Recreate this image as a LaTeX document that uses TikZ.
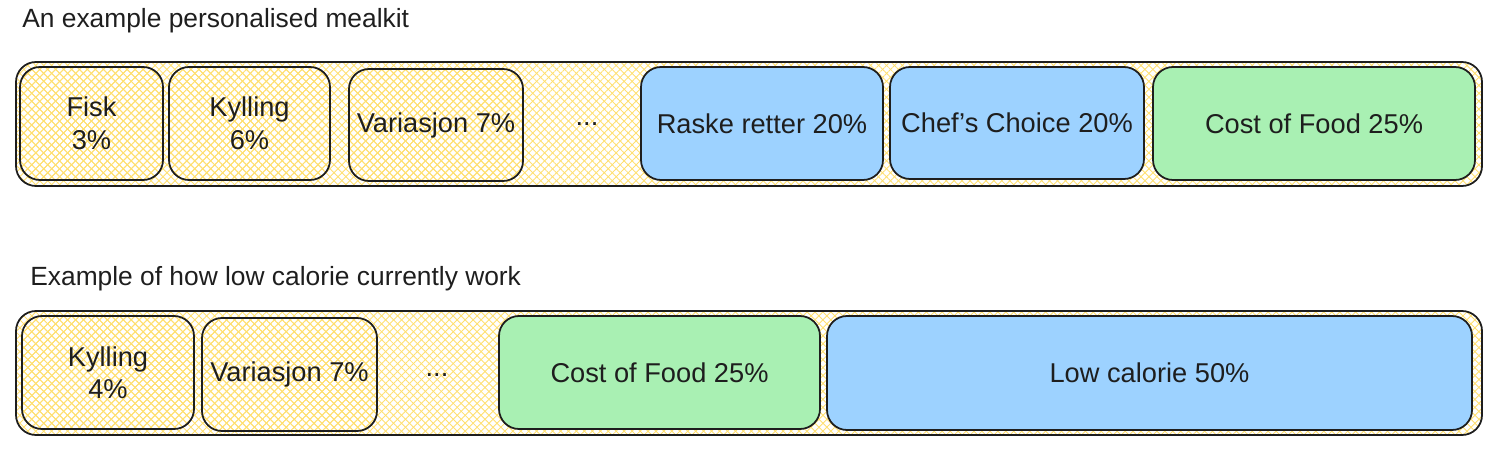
\documentclass[tikz,border=0pt]{standalone}
\usepackage{fontspec}
\setmainfont{Liberation Sans}
\usetikzlibrary{patterns.meta}

\definecolor{inkblack}{HTML}{1E1E1E}
\definecolor{hatchyellow}{HTML}{FFDF70}
\definecolor{kitblue}{HTML}{9DD2FF}
\definecolor{kitgreen}{HTML}{A9F0B3}

\tikzset{
  kitbox/.style={draw=inkblack, line width=1pt, rounded corners=0.4cm},
  hatched/.style={kitbox,
    pattern={Lines[angle=45, distance=3.2pt, line width=0.5pt]}, pattern color=hatchyellow,
    preaction={pattern={Lines[angle=-45, distance=3.2pt, line width=0.5pt]}, pattern color=hatchyellow}},
  bluebox/.style={kitbox, fill=kitblue},
  greenbox/.style={kitbox, fill=kitgreen},
  label/.style={font=\fontsize{15.5}{18.5}\selectfont, text=inkblack, align=center},
  heading/.style={font=\fontsize{15}{18}\selectfont, text=inkblack, anchor=west, inner sep=0pt}
}

\begin{document}
\begin{tikzpicture}[x=0.02cm, y=-0.02cm]
\useasboundingbox (0,0) rectangle (1504,459);

% personalised mealkit
\node[heading] (title1) at (22,21) {An example personalised mealkit};
\draw[hatched] (16,62) rectangle (1482,186);
\draw[hatched] (20,67) rectangle node[label] (fisk) {Fisk\\3\%} (163,180);
\draw[hatched] (169,67) rectangle node[label] (kylling) {Kylling\\6\%} (330,180);
\draw[hatched] (349,69) rectangle node[label] (variasjon) {Variasjon 7\%} (523,181);
\node[label] (dots1) at (587,124) {...};
\draw[bluebox] (641,67) rectangle node[label] (raske) {Raske retter 20\%} (883,180);
\draw[bluebox] (890,67) rectangle node[label] (chef) {Chef's Choice 20\%} (1144,179);
\draw[greenbox] (1153,67) rectangle node[label] (cost1) {Cost of Food 25\%} (1475,180);

% low calorie
\node[heading] (title2) at (30,279) {Example of how low calorie currently work};
\draw[hatched] (16,311) rectangle (1482,435);
\draw[hatched] (22,316) rectangle node[label] (kylling2) {Kylling\\4\%} (194,429);
\draw[hatched] (202,318) rectangle node[label] (variasjon2) {Variasjon 7\%} (377,431);
\node[label] (dots2) at (437,375) {...};
\draw[greenbox] (499,316) rectangle node[label] (cost2) {Cost of Food 25\%} (820,429);
\draw[bluebox] (827,316) rectangle node[label] (lowcal) {Low calorie 50\%} (1472,430);
\end{tikzpicture}
\end{document}
